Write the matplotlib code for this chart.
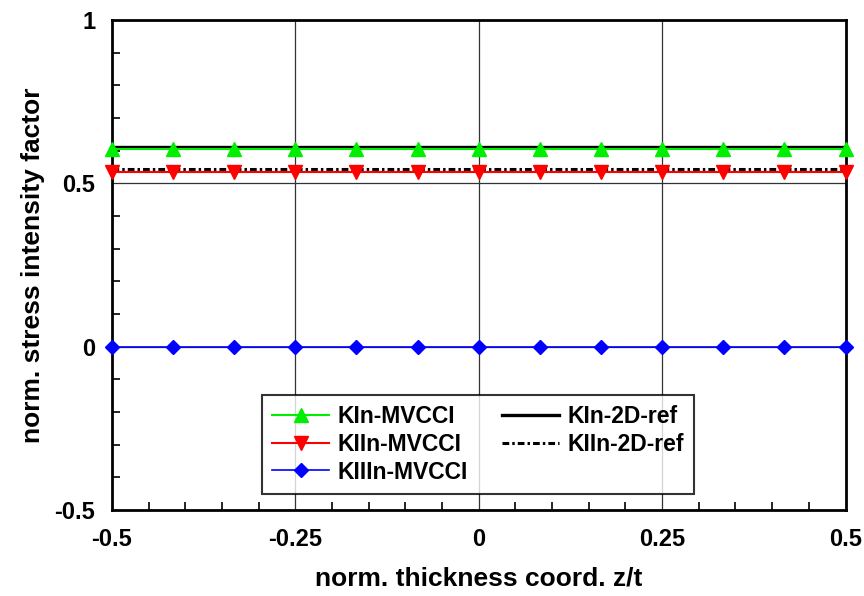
import numpy as np
import matplotlib
matplotlib.use("Agg")
import matplotlib.pyplot as plt
from matplotlib.ticker import MultipleLocator

plt.rcParams['font.family'] = ['Liberation Sans', 'DejaVu Sans']
plt.rcParams['font.weight'] = 'bold'

z = [-0.5, -5/12, -4/12, -3/12, -2/12, -1/12, 0.0, 1/12, 2/12, 3/12, 4/12, 5/12, 0.5]
KI_mvcci = [0.604] * 13
KII_mvcci = [0.534] * 13
KIII_mvcci = [0.0] * 13
ref_x = [-0.5, 0.5]
KI_ref = [0.612, 0.612]
KII_ref = [0.544, 0.544]

fig = plt.figure(figsize=(8.64, 5.96), dpi=100)
ax = fig.add_axes([0.1296, 0.1443, 0.849, 0.822])

# grid
for gx in [-0.25, 0, 0.25]:
    ax.axvline(gx, color='#333333', lw=0.9, zorder=0)
for gy in [0, 0.5]:
    ax.axhline(gy, color='#333333', lw=0.9, zorder=0)

l1, = ax.plot(z, KI_mvcci, color='#00ee00', lw=1.5, marker='^', ms=10, mec='#00ee00', mfc='#00ee00', label='KIn-MVCCI', clip_on=False, zorder=3)
l2, = ax.plot(z, KII_mvcci, color='#ff0000', lw=1.5, marker='v', ms=10, mec='#ff0000', mfc='#ff0000', label='KIIn-MVCCI', clip_on=False, zorder=3)
l3, = ax.plot(z, KIII_mvcci, color='#0000ff', lw=1.2, marker='D', ms=7, mec='#0000ff', mfc='#0000ff', label='KIIIn-MVCCI', clip_on=False, zorder=3)
l4, = ax.plot(ref_x, KI_ref, color='black', lw=2.4, label='KIn-2D-ref', zorder=2)
l5, = ax.plot(ref_x, KII_ref, color='black', lw=2.2, ls=(0, (2.2, 1.0, 0.8, 1.0)), label='KIIn-2D-ref', zorder=2)

ax.set_xlim(-0.5, 0.5)
ax.set_ylim(-0.5, 1)
ax.xaxis.set_minor_locator(MultipleLocator(0.05))
ax.yaxis.set_minor_locator(MultipleLocator(0.1))
ax.set_xticks([-0.5, -0.25, 0, 0.25, 0.5])
ax.set_xticklabels(['-0.5', '-0.25', '0', '0.25', '0.5'])
ax.set_yticks([-0.5, 0, 0.5, 1])
ax.set_yticklabels(['-0.5', '0', '0.5', '1'])
ax.tick_params(which='both', direction='in', labelsize=17, width=1.2)
ax.tick_params(which='major', length=0)
ax.tick_params(axis='x', which='major', pad=13)
ax.tick_params(axis='y', which='major', pad=12)
ax.tick_params(which='minor', length=6)
for lab in ax.get_xticklabels() + ax.get_yticklabels():
    lab.set_fontweight('bold')
for s in ax.spines.values():
    s.set_linewidth(2)

ax.set_xlabel('norm. thickness coord. z/t', fontsize=19, fontweight='bold', labelpad=11)
ax.set_ylabel('norm. stress intensity factor', fontsize=19, fontweight='bold', labelpad=7)

leg = ax.legend(handles=[l1, l2, l3, l4, l5], ncol=2, loc='lower left',
                bbox_to_anchor=(0.204, 0.033),
                fontsize=16.5, handlelength=2.5, frameon=True, fancybox=False,
                edgecolor='black', borderpad=0.45, labelspacing=0.2,
                columnspacing=1.5, handletextpad=0.35, borderaxespad=0)
leg.get_frame().set_linewidth(1.5)
for t in leg.get_texts():
    t.set_fontweight('bold')

fig.savefig('out.png', dpi=100)
